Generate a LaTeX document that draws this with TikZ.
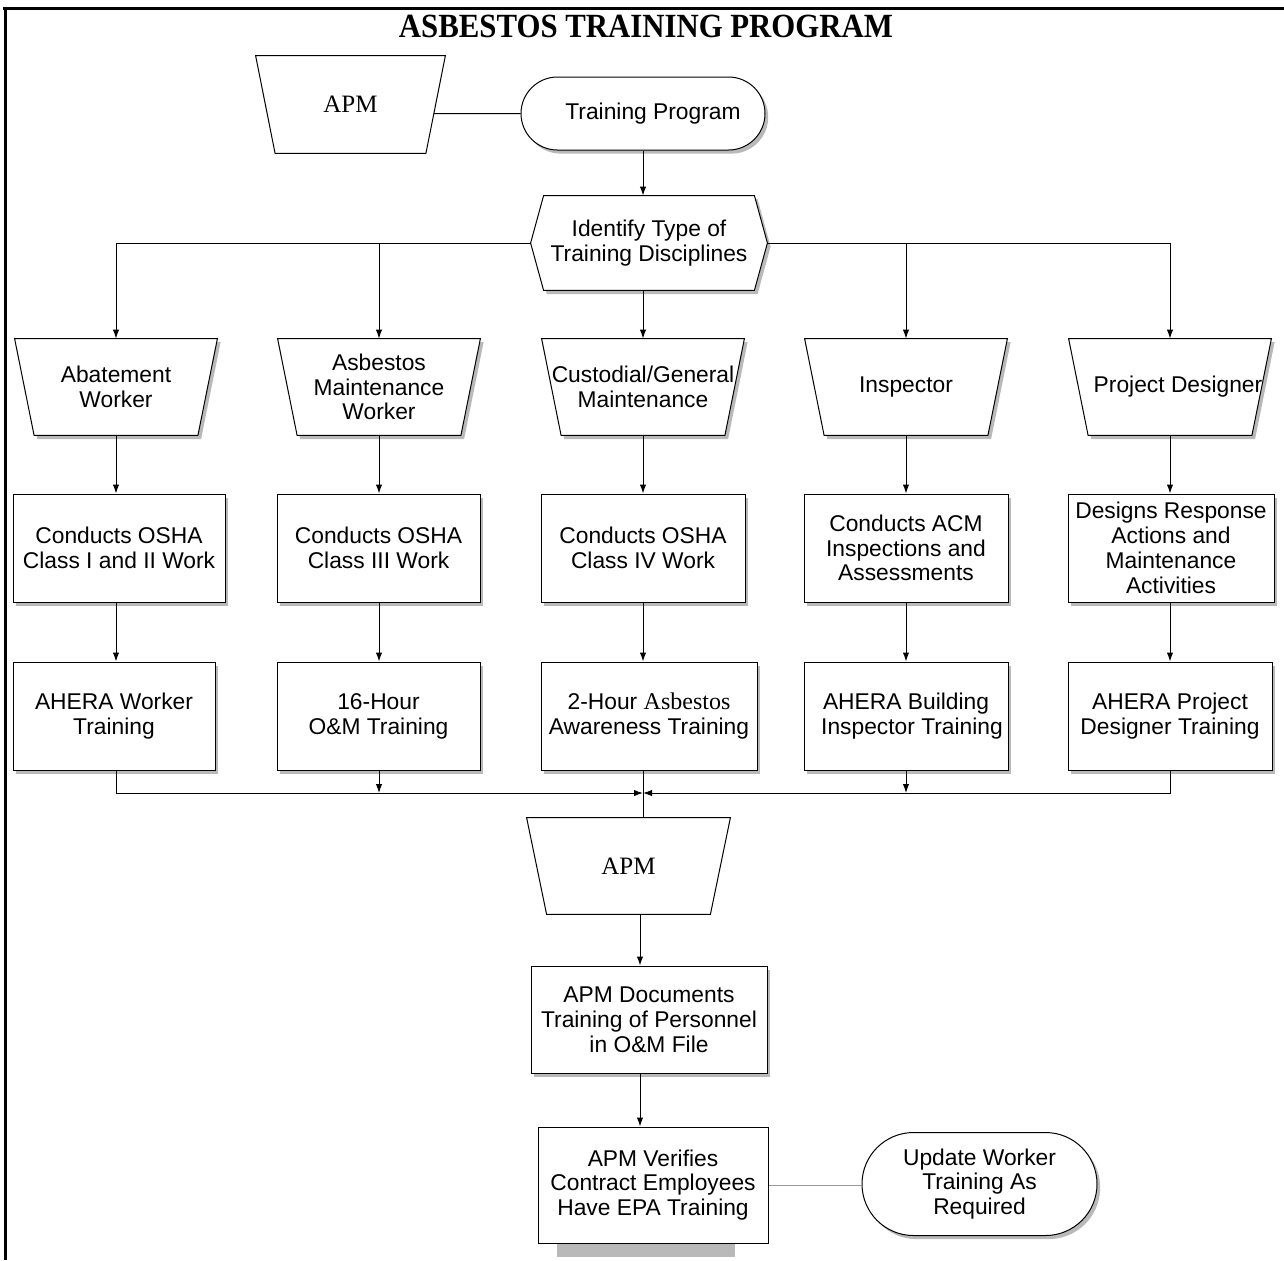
\documentclass[tikz,border=0pt]{standalone}
\usepackage{fontspec}
\setmainfont{Liberation Serif}
\setsansfont{Liberation Sans}
\usetikzlibrary{shapes.misc,shadows,arrows.meta,calc}
\pgfdeclarelayer{bg}
\pgfsetlayers{bg,main}
\newcommand\txtfont{\sffamily\fontsize{11.4}{12.4}\selectfont}
\newcommand\apmfont{\rmfamily\fontsize{12.5}{14}\selectfont}
\newcommand\drawtrap[3]{%
  \begin{pgfonlayer}{bg}
  \draw[shp,#3] (#1.north west) -- (#1.north east) -- ([xshift=-#2]#1.south east) -- ([xshift=#2]#1.south west) -- cycle;
  \end{pgfonlayer}}
\newcommand\drawhex[2]{%
  \begin{pgfonlayer}{bg}
  \draw[shp,shad] ([xshift=#2]#1.north west) -- ([xshift=-#2]#1.north east) -- (#1.east) -- ([xshift=-#2]#1.south east) -- ([xshift=#2]#1.south west) -- (#1.west) -- cycle;
  \end{pgfonlayer}}
\tikzset{
  shp/.style={draw=black, line width=0.5pt, fill=white},
  shad/.style={drop shadow={shadow xshift=1.6pt, shadow yshift=-1.8pt, fill=gray!55, opacity=1}},
  tnode/.style={rectangle, inner sep=0pt, font=\txtfont, align=center},
  box/.style={rectangle, draw=black, fill=white, line width=0.5pt, inner sep=0pt, font=\txtfont, align=center, shad},
  term/.style={rounded rectangle, draw=black, fill=white, line width=0.5pt, inner sep=0pt, font=\txtfont, align=center, shad},
  conn/.style={line width=0.5pt},
  arr/.style={line width=0.5pt, -{Latex[length=4.5pt,width=3.2pt]}},
}
\begin{document}
\begin{tikzpicture}[x=0.5pt,y=-0.5pt]
\useasboundingbox (0,0) rectangle (1284,1260);
% frame
\draw[line width=1.5pt] (3,8) -- (1284,8);
\draw[line width=1.5pt] (5,8) -- (5,1260);
% title
\node[anchor=base, inner sep=0pt, font=\rmfamily\bfseries\fontsize{15.4}{16}\selectfont] (title) at (646,37) {\scalebox{1}[1.1]{ASBESTOS TRAINING PROGRAM}};

% top
\node[tnode, minimum width=94.5pt, minimum height=48.5pt] (apm1) at (350.5,104.5) {\apmfont APM};
\drawtrap{apm1}{9.75pt}{}
\node[term, minimum width=122pt, minimum height=36.5pt] (tp) at (643,113.5) {\hspace{10pt}Training Program};
\draw[conn] (tp.west) -- ($(apm1.north east)!0.593!([xshift=-9.75pt]apm1.south east)$);

\node[tnode, minimum width=118pt, minimum height=47pt] (ident) at (649,243) {Identify Type of\\Training Disciplines};
\drawhex{ident}{6.5pt}
\draw[arr] (tp.south) -- (tp.south |- ident.north);

% disciplines
\node[tnode, minimum width=101pt, minimum height=48pt] (t1) at (116,387) {Abatement\\Worker};
\node[tnode, minimum width=101pt, minimum height=48pt] (t2) at (379,387) {Asbestos\\Maintenance\\Worker};
\node[tnode, minimum width=101pt, minimum height=48pt] (t3) at (643,387) {Custodial/General\\Maintenance};
\node[tnode, minimum width=101pt, minimum height=48pt] (t4) at (906,387) {Inspector};
\node[tnode, minimum width=101pt, minimum height=48pt] (t5) at (1170,387) {\hspace{8pt}Project Designer};
\drawtrap{t1}{9.75pt}{shad}
\drawtrap{t2}{9.75pt}{shad}
\drawtrap{t3}{9.75pt}{shad}
\drawtrap{t4}{9.75pt}{shad}
\drawtrap{t5}{9.75pt}{shad}

\draw[arr] (ident.west) -| (t1.north);
\draw[arr] (t2.north |- ident.west) -- (t2.north);
\draw[arr] (t3.north |- ident.south) -- (t3.north);
\draw[arr] (t4.north |- ident.east) -- (t4.north);
\draw[arr] (ident.east) -| (t5.north);

% work boxes
\node[box, minimum width=106pt, minimum height=54pt] (c1) at (119,548) {Conducts OSHA\\Class I and II Work};
\node[box, minimum width=101.5pt, minimum height=54pt] (c2) at (378.5,548) {Conducts OSHA\\Class III Work};
\node[box, minimum width=102pt, minimum height=54pt] (c3) at (643,548) {Conducts OSHA\\Class IV Work};
\node[box, minimum width=102pt, minimum height=54pt] (c4) at (906,548) {Conducts ACM\\Inspections and\\Assessments};
\node[box, minimum width=103pt, minimum height=54pt] (c5) at (1171,548) {Designs Response\\Actions and\\Maintenance\\Activities};

\foreach \i in {1,...,5}{
  \draw[arr] (t\i.south) -- (t\i.south |- c\i.north);
}

% training boxes
\node[box, minimum width=101pt, minimum height=54pt] (d1) at (114,716) {AHERA Worker\\Training};
\node[box, minimum width=101.5pt, minimum height=54pt] (d2) at (378.5,716) {16-Hour\\O\&M Training};
\node[box, minimum width=108pt, minimum height=54pt] (d3) at (649,716) {2-Hour {\rmfamily\fontsize{12}{12.4}\selectfont Asbestos}\\Awareness Training};
\node[box, minimum width=102pt, minimum height=54pt] (d4) at (906,716) {AHERA Building\\\hspace{6pt}Inspector Training};
\node[box, minimum width=102pt, minimum height=54pt] (d5) at (1170,716) {AHERA Project\hspace{28pt}\\Designer Training};

\foreach \i in {1,...,5}{
  \draw[arr] (t\i.south |- c\i.south) -- (t\i.south |- d\i.north);
}

% merge
\coordinate (m) at (643,793);
\node[tnode, minimum width=101.5pt, minimum height=48pt] (apm2) at (628.5,866) {\apmfont APM};
\drawtrap{apm2}{10pt}{}
\draw[arr] (t1.south |- d1.south) |- (m);
\draw[arr] (t5.south |- d5.south) |- (m);
\draw[arr] (t2.south |- d2.south) -- (t2.south |- m);
\draw[arr] (t4.south |- d4.south) -- (t4.south |- m);
\draw[conn] (t3.south |- d3.south) -- (t3.south |- apm2.north);

% bottom
\node[box, minimum width=118pt, minimum height=53.5pt] (doc) at (649,1019.5) {APM Documents\\Training of Personnel\\in O\&M File};
\draw[arr] ([xshift=5.75pt]apm2.south) -- ([xshift=5.75pt]apm2.south |- doc.north);

\begin{pgfonlayer}{bg}
\fill[gray!55] (557,1243) rectangle (735,1257);
\end{pgfonlayer}
\node[rectangle, draw=black, fill=white, line width=0.5pt, inner sep=0pt, font=\txtfont, align=center, minimum width=115pt, minimum height=58pt] (ver) at (653,1185) {APM Verifies\\Contract Employees\\Have EPA Training};
\draw[arr] ([xshift=-4.5pt]doc.south) -- ([xshift=-4.5pt]doc.south |- ver.north);

\node[term, minimum width=117.5pt, minimum height=51.5pt] (upd) at (979.5,1184) {Update Worker\\Training As\\Required};
\draw[conn, draw=gray!80] (ver.east) -- (ver.east -| upd.west);
\end{tikzpicture}
\end{document}
